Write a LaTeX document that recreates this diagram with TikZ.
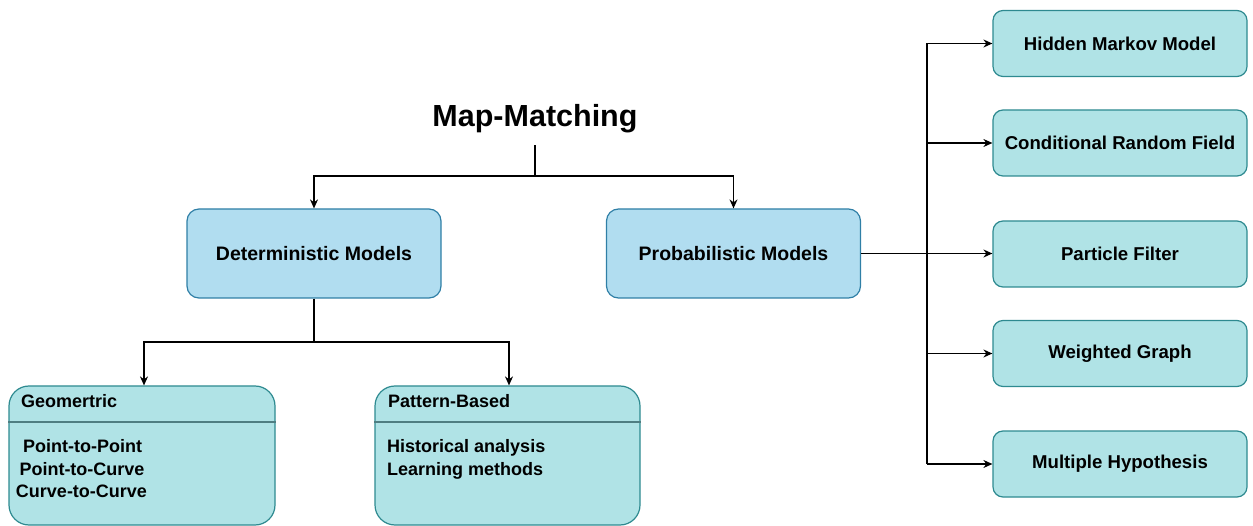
\documentclass[tikz,border=0pt]{standalone}
\usepackage{fontspec}
\setmainfont{Liberation Sans}
\usetikzlibrary{arrows.meta}
\definecolor{blueFill}{HTML}{B1DDF0}
\definecolor{blueLine}{HTML}{2F7FA6}
\definecolor{tealFill}{HTML}{B0E3E6}
\definecolor{tealLine}{HTML}{2E8A90}
\definecolor{ruleLine}{HTML}{4F7E82}
\begin{document}
\begin{tikzpicture}[x=1pt,y=-1pt,
  modelbox/.style={draw=blueLine,fill=blueFill,line width=1.2pt,rounded corners=12pt,
    minimum width=254pt,minimum height=89pt,inner sep=0pt,
    font=\fontsize{19.5}{22}\selectfont\bfseries},
  methodbox/.style={draw=tealLine,fill=tealFill,line width=1.2pt,rounded corners=10pt,
    minimum width=254pt,minimum height=66pt,inner sep=0pt,
    font=\fontsize{18.6}{22}\selectfont\bfseries},
  groupbox/.style={draw=tealLine,fill=tealFill,line width=1.2pt,rounded corners=20pt,
    minimum height=139pt,inner sep=0pt},
  itemtext/.style={inner sep=0pt,font=\fontsize{18}{22}\selectfont\bfseries},
  link/.style={draw=black,line width=1.2pt},
  arr/.style={link,-{Stealth[length=9pt,width=8pt]}}
]
\useasboundingbox (0,0) rectangle (1253,526);

% title
\node[inner xsep=0pt,inner ysep=11.7pt,anchor=base,
      font=\fontsize{30.5}{34}\selectfont\bfseries] (title) at (535,127) {Map-Matching};

% model families
\node[modelbox] (det)  at (314,253.5) {Deterministic Models};
\node[modelbox] (prob) at (733.5,253.5) {Probabilistic Models};

% deterministic groups
\node[groupbox,minimum width=266pt] (geo) at (142,455.5) {};
\node[groupbox,minimum width=265pt] (pat) at (507.5,455.5) {};
\coordinate (rule) at (0,422);
\draw[ruleLine,line width=1.5pt] (geo.west |- rule) -- (geo.east |- rule);
\draw[ruleLine,line width=1.5pt] (pat.west |- rule) -- (pat.east |- rule);

\node[itemtext,anchor=base west] (geoT) at (21,408) {Geomertric};
\node[itemtext,anchor=base] (geo1) at (82.5,452.7) {Point-to-Point};
\node[itemtext,anchor=base] (geo2) at (82,475) {Point-to-Curve};
\node[itemtext,anchor=base] (geo3) at (81.5,497.3) {Curve-to-Curve};

\node[itemtext,anchor=base west] (patT) at (388,408) {Pattern-Based};
\node[itemtext,anchor=base west] (pat1) at (387,453) {Historical analysis};
\node[itemtext,anchor=base west] (pat2) at (387,475.3) {Learning methods};

% probabilistic methods
\node[methodbox] (hmm) at (1120,43.5)  {Hidden Markov Model};
\node[methodbox] (crf) at (1120,143)   {Conditional Random Field};
\node[methodbox] (pf)  at (1120,254)   {Particle Filter};
\node[methodbox] (wg)  at (1120,353.5) {Weighted Graph};
\node[methodbox] (mh)  at (1120,464)   {Multiple Hypothesis};

% connectors
\coordinate (fork1) at (535,176);
\coordinate (fork2) at (314,342);
\coordinate (trunk) at (927,0);

\draw[link] (title.south) -- (fork1);
\draw[arr] (fork1) -| (det.north);
\draw[arr] (fork1) -| (prob.north);

\draw[link] (det.south) -- (fork2);
\draw[arr] (fork2) -| ([xshift=2pt]geo.north);
\draw[arr] (fork2) -| ([xshift=1.5pt]pat.north);

\draw[arr] (prob.east) -- (prob.east -| pf.west);
\draw[arr] (mh.west -| trunk) |- (hmm.west);
\draw[arr] (crf.west -| trunk) -- (crf.west);
\draw[arr] (wg.west -| trunk) -- (wg.west);
\draw[arr] (mh.west -| trunk) -- (mh.west);
\end{tikzpicture}
\end{document}
